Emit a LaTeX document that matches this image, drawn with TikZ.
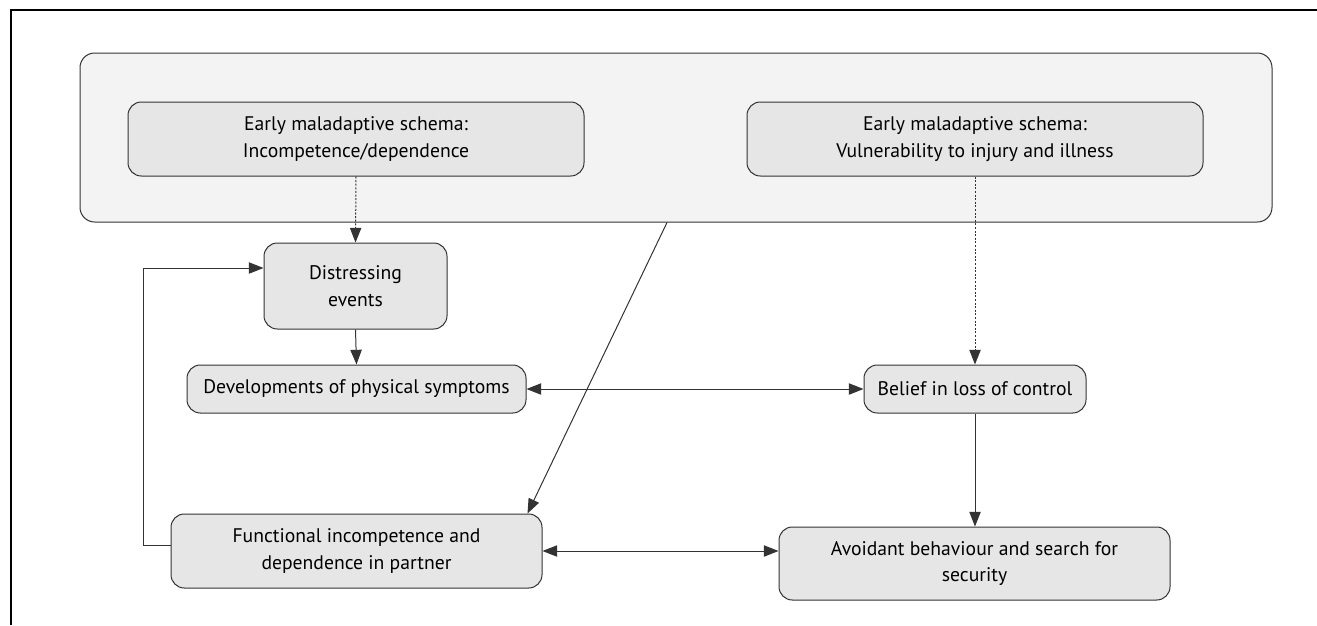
\documentclass[tikz,border=0pt]{standalone}
\usepackage{fontspec}
\setmainfont{PT Sans}
\usetikzlibrary{arrows.meta, calc, positioning}
\usepackage{xcolor}
\definecolor{boxfill}{HTML}{E6E6E6}
\definecolor{outerfill}{HTML}{F3F3F3}
\definecolor{linegray}{HTML}{333333}

\begin{document}
\begin{tikzpicture}[x=0.75pt, y=-0.75pt,
  outerbox/.style={draw=linegray, fill=outerfill, rounded corners=11pt, line width=0.75pt},
  stage/.style={draw=linegray, fill=boxfill, rounded corners=10pt, line width=0.75pt, align=center, inner sep=0pt, font=\fontsize{14.75}{20}\selectfont},
  link/.style={draw=linegray, line width=0.75pt, -{Triangle[length=11pt, width=8.5pt]}},
  twoway/.style={link, {Triangle[length=11pt, width=8.5pt]}-{Triangle[length=11pt, width=8.5pt]}},
  hint/.style={link, dash pattern=on 1.5pt off 1.2pt}]
  \useasboundingbox (0,0) rectangle (1317,625);

  % frame
  \draw[line width=1.5pt] (11,625) -- (11,10) -- (1317,10);

  % schemas
  \node[outerbox, minimum width=894pt, minimum height=126.75pt] (schemas) at (676,137.5) {};
  \node[stage, minimum width=342pt, minimum height=55.5pt] (schemaA) at (356,139) {Early maladaptive schema:\\Incompetence/dependence};
  \node[stage, minimum width=342pt, minimum height=55.5pt] (schemaB) at (975,139) {Early maladaptive schema:\\Vulnerability to injury and illness};

  % stages
  \node[stage, minimum width=137.25pt, minimum height=64.5pt] (distress) at (355.5,286) {Distressing\\events};
  \node[stage, minimum width=254.25pt, minimum height=36pt] (develop) at (356.5,389) {Developments of physical symptoms};
  \node[stage, minimum width=166.5pt, minimum height=36pt] (belief) at (975,389) {Belief in loss of control};
  \node[stage, minimum width=278.25pt, minimum height=55.5pt] (functional) at (356.5,551) {Functional incompetence and\\dependence in partner};
  \node[stage, minimum width=293.25pt, minimum height=54.75pt] (avoidant) at (974.5,563.5) {Avoidant behaviour and search for\\security};

  % links
  \draw[hint] (schemaA.south) -- (distress.north);
  \draw[hint] (schemaB.south) -- (belief.north);
  \draw[link] (distress.south) -- (develop.north);
  \draw[twoway] (develop.east) -- (belief.west);
  \draw[link] (belief.south) -- (belief.south |- avoidant.north);
  \draw[twoway] (functional.east) -- (functional.east -| avoidant.west);
  \draw[link] ($(schemas.south)+(-9,0)$) -- ($(functional.north east)+(-15,0)$);
  \coordinate (loop) at (143,268);
  \draw[link] ($(functional.west)+(0,-6)$) -| (loop) -- (loop -| distress.west);
\end{tikzpicture}
\end{document}
